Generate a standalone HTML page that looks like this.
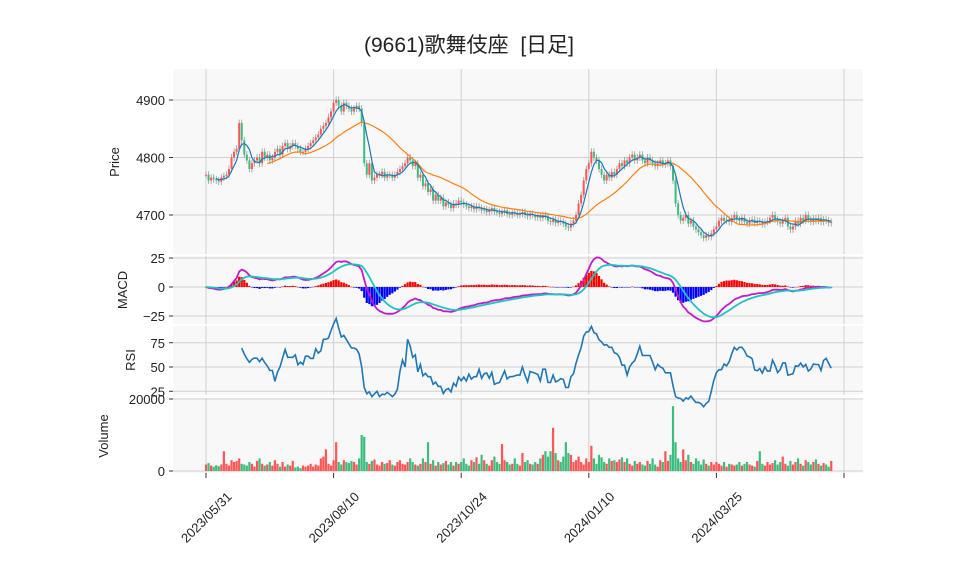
<!DOCTYPE html>
<html><head><meta charset="utf-8">
<style>
html,body{margin:0;padding:0;background:#fff;}
svg{display:block;font-family:"Liberation Sans","Noto Sans CJK JP",sans-serif;}
</style></head>
<body>
<svg id="chart" width="958" height="575" viewBox="0 0 958 575" xmlns="http://www.w3.org/2000/svg">
<text x="469" y="52" font-size="21" text-anchor="middle" fill="#222">(9661)歌舞伎座&#160;&#160;[日足]</text>
<g id="panels"></g>
</svg>
<script>
const dateLabels = ["2023/05/31","2023/08/10","2023/10/24","2024/01/10","2024/03/25"];
const dateTickIdx = [0,50,100,150,200,250];
const priceTicks = [4700,4800,4900];
const macdTicks = [-25,0,25];
const rsiTicks = [25,50,75];
const volTicks = [0,20000];
const closes = [
4770,4760,4765,4762,4760,4758,4765,4768,4770,4780,
4800,4810,4815,4860,4830,4805,4795,4780,4790,4795,
4800,4790,4810,4800,4805,4795,4800,4810,4815,4805,
4820,4825,4815,4820,4825,4820,4815,4810,4810,4815,
4820,4825,4830,4835,4840,4850,4855,4860,4870,4880,
4895,4900,4890,4880,4895,4890,4885,4880,4885,4890,
4885,4860,4790,4770,4790,4760,4765,4770,4770,4775,
4765,4770,4770,4765,4770,4775,4780,4785,4790,4800,
4795,4785,4790,4765,4770,4750,4755,4740,4745,4725,
4735,4725,4730,4715,4722,4718,4712,4720,4718,4725,
4722,4718,4715,4712,4715,4710,4715,4712,4708,4710,
4705,4708,4712,4706,4705,4702,4705,4708,4702,4700,
4705,4703,4700,4702,4705,4700,4698,4702,4700,4696,
4698,4695,4700,4698,4690,4688,4692,4686,4690,4688,
4685,4680,4678,4685,4690,4700,4720,4735,4760,4780,
4790,4810,4800,4795,4780,4770,4760,4770,4765,4775,
4770,4780,4790,4785,4795,4790,4800,4805,4795,4800,
4805,4795,4790,4800,4795,4790,4785,4790,4795,4788,
4790,4795,4785,4760,4720,4700,4690,4695,4700,4685,
4690,4680,4675,4670,4665,4660,4665,4662,4668,4675,
4680,4690,4695,4690,4692,4688,4695,4700,4692,4690,
4695,4688,4685,4690,4692,4686,4690,4688,4684,4688,
4690,4695,4700,4692,4688,4685,4690,4695,4680,4675,
4680,4690,4685,4695,4690,4700,4692,4688,4694,4690,
4695,4688,4692,4690,4686,4688];
const volumes = [
1800,2200,1500,1200,1600,1300,1800,5500,2000,1500,
3000,2500,2800,3500,2000,1800,1500,2500,2000,1200,
2800,3500,2000,1500,1800,2500,1500,3000,2000,1200,
2500,1200,1800,1500,2800,1000,1200,800,1500,1200,
1500,2000,1200,1800,1500,3500,4000,6000,2000,1500,
3000,8000,2500,1800,3000,2500,2200,2800,2500,1800,
3500,10000,9500,2500,2000,2800,3200,1800,1500,2500,
2000,2200,3000,1800,1500,2500,3000,2000,1800,2500,
3500,2500,1800,1500,2000,3500,2500,8000,2000,3000,
1500,2500,1800,2200,2800,1800,2500,1500,2500,2000,
2500,3500,2000,1500,3000,2500,3800,2000,4500,3000,
2000,1500,3000,4000,2500,2000,7500,3000,2500,1800,
2000,3500,2000,1500,5000,2500,3000,2000,1800,2500,
2000,3500,4500,5500,4000,5500,12000,5000,3000,2500,
4000,8000,5000,4500,2500,3000,4000,2500,1800,3500,
2500,7000,3500,2000,4500,3800,2500,2000,3500,2800,
3000,2500,3200,3800,2500,3500,2000,1500,2800,2000,
2500,1800,1500,2800,2000,3500,1800,1200,3000,2500,
5500,2800,4500,18000,8000,3500,2500,6000,3000,4500,
2500,2000,3500,2800,1800,3200,2000,1500,2500,1800,
2500,2000,1500,2500,1200,2000,1800,1500,1800,2500,
1500,2000,2500,1800,1500,1200,2800,5500,2000,1500,
2500,1800,2200,3000,1800,2500,4000,2000,1500,2800,
1800,2500,3500,2000,1500,3000,2500,1800,2500,3200,
2000,1500,2200,1800,1200,2800];
</script>
<script>
const svg = document.getElementById('chart');
const G = document.getElementById('panels');
const NS = 'http://www.w3.org/2000/svg';
const X0 = 206, DX = 2.552;
const PL = 173, PR = 863;
function xs(i){ return X0 + i*DX; }
function yPrice(p){ return 100 + (4900-p)*0.575; }
function yMacd(v){ return 287 - v*1.16; }
function yRsi(v){ return 367 - (v-50)*0.97; }
function yVol(v){ return 471 - v*0.0036; }
function mk(tag, attrs, parent){
  const e = document.createElementNS(NS, tag);
  for (const k in attrs) e.setAttribute(k, attrs[k]);
  (parent||G).appendChild(e);
  return e;
}
const panels = [
  {name:'price', top:69, bottom:254, ticks:priceTicks, f:yPrice, label:'Price', lx:119, ly:162},
  {name:'macd', top:256, bottom:324, ticks:macdTicks, f:yMacd, label:'MACD', lx:127, ly:290},
  {name:'rsi', top:326, bottom:395, ticks:rsiTicks, f:yRsi, label:'RSI', lx:135, ly:360},
  {name:'volume', top:398, bottom:473, ticks:volTicks, f:yVol, label:'Volume', lx:108, ly:436}
];
panels.forEach(p=>{
  const r = mk('rect',{x:PL,y:p.top,width:PR-PL,height:p.bottom-p.top,fill:'#f8f8f8'});
  
  
  dateTickIdx.forEach(i=>{
    const l = mk('line',{x1:xs(i),x2:xs(i),y1:p.top,y2:p.bottom,stroke:'#d0d0d0','stroke-width':1});
    
    
  });
  p.ticks.forEach(t=>{
    const y = p.f(t);
    const l = mk('line',{x1:PL,x2:PR,y1:y,y2:y,stroke:'#d0d0d0','stroke-width':1});
    
    
    mk('line',{x1:PL-4,x2:PL,y1:y,y2:y,stroke:'#333'});
    const tx = mk('text',{x:PL-8,y:y+5,'font-size':13,'text-anchor':'end',fill:'#222'});
    tx.textContent = String(t).replace('-','\u2212');
    
    
  });
  const lb = mk('text',{x:p.lx,y:p.ly,'font-size':13,'text-anchor':'middle',fill:'#222',transform:`rotate(-90 ${p.lx} ${p.ly})`});
  lb.textContent = p.label;
  
  
});
dateTickIdx.forEach((i,k)=>{
  const x = xs(i);
  mk('line',{x1:x,x2:x,y1:473,y2:478,stroke:'#333'});
  if (dateLabels[k]){
    const cy = 517;
    const t = mk('text',{x:x,y:cy+5,'font-size':13,'text-anchor':'middle',fill:'#222',transform:`rotate(-45 ${x} ${cy})`});
    t.textContent = dateLabels[k];
    
    
  }
});
const UP='#ff5555', DN='#3dbd7d';
const n = closes.length;
for (let i=0;i<n;i++){
  const c = closes[i], o = i>0?closes[i-1]:closes[i];
  const hi = Math.max(o,c)+6, lo = Math.min(o,c)-6;
  const x = xs(i);
  mk('line',{x1:x,x2:x,y1:yPrice(hi),y2:yPrice(lo),stroke:'#999','stroke-width':0.8});
  const y1 = yPrice(Math.max(o,c)), y2 = yPrice(Math.min(o,c));
  const b = mk('rect',{x:x-1,y:y1,width:2,height:Math.max(1,y2-y1),fill:c>=o?UP:DN});
  
  
  const v = mk('rect',{x:x-1.1,y:yVol(volumes[i]),width:2.2,height:471-yVol(volumes[i]),fill:c>=o?UP:DN});
  
  
}
function poly(pts, color, w, name){
  const e = mk('polyline',{points:pts.map(p=>p[0].toFixed(1)+','+p[1].toFixed(1)).join(' '),fill:'none',stroke:color,'stroke-width':w});
  
  
}
function sma(k){ const out=[]; for(let i=k-1;i<n;i++){let s=0;for(let j=i-k+1;j<=i;j++)s+=closes[j];out.push([xs(i),yPrice(s/k)]);} return out; }
poly(sma(25),'#ff7f0e',1.2,'ma25-line');
poly(sma(5),'#1f77b4',1.2,'ma5-line');
function ema(arr,k){const a=2/(k+1);const o=[arr[0]];for(let i=1;i<arr.length;i++)o.push(a*arr[i]+(1-a)*o[i-1]);return o;}
const e12=ema(closes,12), e26=ema(closes,26);
const macd=e12.map((v,i)=>v-e26[i]);
const sig=ema(macd,9);
for(let i=0;i<n;i++){
  const h=macd[i]-sig[i];
  const y=yMacd(Math.max(h,0)), y2=yMacd(Math.min(h,0));
  const r=mk('rect',{x:xs(i)-1.1,y:y,width:2.2,height:Math.max(0.5,y2-y),fill:h>=0?'#ff0000':'#0000ff'});
  
  
}
poly(macd.map((v,i)=>[xs(i),yMacd(v)]),'#c21cc8',1.8,'macd-line');
poly(sig.map((v,i)=>[xs(i),yMacd(v)]),'#1ec4c4',1.8,'signal-line');
const rsi=[];
for(let i=14;i<n;i++){let g=0,l=0;for(let j=i-13;j<=i;j++){const d=closes[j]-closes[j-1];if(d>0)g+=d;else l-=d;}const v=g+l===0?50:100*g/(g+l);rsi.push([xs(i),yRsi(v)]);}
poly(rsi,'#1f77b4',1.6,'rsi-line');
</script>
</body></html>
